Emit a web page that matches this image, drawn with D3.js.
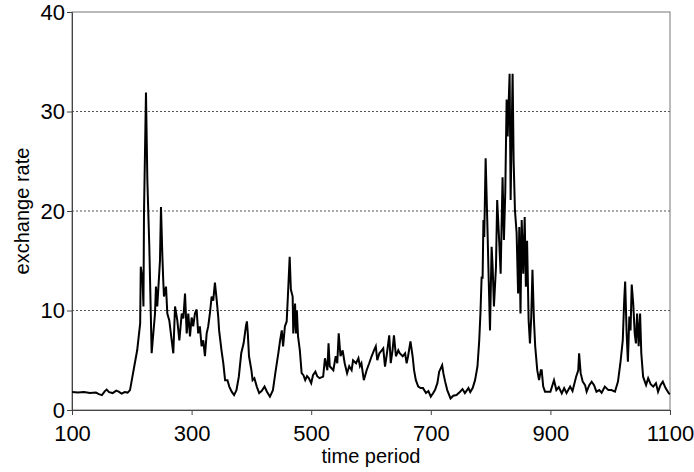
<!DOCTYPE html>
<html lang="en">
<head>
<meta charset="UTF-8">
<title>exchange rate</title>
<script src="https://d3js.org/d3.v7.min.js"></script>
<style>
  body { margin: 0; background: #fff; }
  text { font-family: "Liberation Sans", Arial, sans-serif; fill: #000; }
</style>
</head>
<body>
<div id="chart"></div>
<script>
// time period of each reading
const periods = [
  100, 110, 120, 130, 140, 145, 150, 155, 158, 162, 168, 174, 178, 183, 188, 193, 197,
  204, 209, 214, 215, 218, 219.5, 220.4, 223.7, 226, 229.3, 233.2, 238.8, 240.4, 242.6, 247.1, 248.8,
  251, 252.6, 253.8, 257.2, 259.4, 262.7, 266.7, 269.4, 272.3, 276.1, 279.5, 283.5, 286.2, 289,
  291.8, 294.5, 297.3, 300.1, 302.7, 305.6, 308.4, 311, 313.8, 316.7, 319.5, 322.3, 325.2, 327.8,
  330.6, 333.5, 336.2, 339, 341.9, 344.5, 346, 350, 353, 356, 360, 363, 367, 371, 375, 379, 383,
  387, 391, 392.5, 394, 396, 400, 402, 405, 409, 413, 417, 422, 426, 431, 436, 440, 445, 448, 450.8,
  453, 456, 459, 461, 464, 466, 469, 470, 473, 474.5, 476, 478, 481, 484, 487, 490, 493, 496, 500,
  503, 507, 510, 514, 520, 523, 527, 529, 531, 537, 541, 543.6, 546, 549, 552.6, 556, 560, 563.6,
  567.6, 570, 575, 579, 581.5, 584, 588, 592.7, 597, 601, 605, 608, 610.5, 614, 618, 620.5, 623.4,
  626, 630.5, 633, 636, 638.4, 641.7, 645.6, 648, 653, 657, 659.6, 662, 666, 669.6, 672, 675, 679,
  683, 687, 692, 696, 700, 704, 707, 711, 714, 719, 721, 724, 727.5, 733, 737.5, 743, 749, 753, 757,
  763, 766, 770, 774, 778, 781, 783, 785, 786.6, 788, 789.4, 791.7, 794.4, 796.7, 799, 801.7, 803.4,
  805.6, 809, 811, 814.5, 816.8, 820, 822.3, 824.5, 826.8, 828.5, 830, 831.8, 833.5, 836.8, 838.5,
  840.7, 843.5, 846, 848, 850, 852, 854.6, 857, 859, 861, 863.6, 865.8, 868, 870, 872.5, 874.6, 878,
  881, 884, 885.4, 888, 891, 896, 900, 906, 910, 914, 919, 923, 927, 933, 937, 943, 946.6, 948,
  950.6, 954, 958, 960.6, 965, 969, 973, 977, 981.7, 985.7, 991, 997, 1002, 1008, 1013, 1017, 1021,
  1023.5, 1025, 1027.5, 1029.6, 1032, 1034, 1036, 1038.5, 1041, 1043, 1045, 1047.6, 1050, 1052,
  1055, 1060, 1063.5, 1067.6, 1072, 1076.5, 1080, 1084, 1088, 1092.6, 1098, 1100
];

// exchange rate at those periods
const rates = [
  1.8, 1.75, 1.8, 1.7, 1.75, 1.6, 1.5, 1.9, 2.05, 1.8, 1.7, 1.95, 1.85, 1.65, 1.8, 1.75, 2.0,
  4.35, 6.0, 8.7, 14.4, 13.0, 10.4, 19.8, 31.9, 23.1, 16.4, 5.7, 9.7, 12.4, 10.4, 15.0, 20.4,
  15.7, 13.0, 11.4, 12.4, 9.7, 9.0, 7.0, 5.7, 10.4, 9.0, 7.0, 9.7, 9.2, 11.7,
  7.7, 9.7, 7.4, 9.3, 8.4, 9.7, 10.1, 7.7, 8.4, 6.4, 7.0, 5.4, 7.7, 8.4,
  9.7, 11.4, 11.0, 12.8, 11.1, 9.4, 8.0, 6.0, 4.7, 3.0, 3.0, 2.35, 1.84, 1.5, 2.0, 3.35, 5.7,
  6.7, 8.5, 8.9, 7.7, 5.4, 4.0, 3.0, 3.2, 2.35, 1.7, 1.9, 2.35, 1.84, 1.34, 2.0, 3.7, 5.7, 7.0, 8.0,
  6.4, 8.4, 8.9, 11.4, 15.4, 12.1, 11.4, 7.7, 10.7, 7.7, 10.0, 7.4, 6.0, 3.7, 3.5, 3.0, 3.4, 3.2, 2.7,
  3.5, 3.85, 3.4, 3.2, 3.35, 5.2, 4.0, 6.7, 4.4, 4.0, 5.4, 4.7, 7.7, 5.4, 6.0, 4.7, 3.7, 4.4,
  4.0, 5.0, 4.7, 5.2, 4.4, 4.7, 3.0, 4.0, 4.7, 5.4, 6.0, 6.4, 5.0, 5.7, 6.0, 6.2, 4.35,
  5.4, 7.5, 4.7, 6.0, 7.5, 5.4, 6.0, 5.7, 5.4, 5.7, 4.7, 5.4, 6.9, 5.4, 4.0, 3.0, 2.35,
  2.2, 2.2, 1.7, 1.9, 1.34, 1.7, 2.0, 2.7, 3.85, 4.5, 3.7, 2.85, 2.0, 1.17, 1.44, 1.5, 1.84, 2.1, 1.7,
  2.2, 1.8, 2.2, 3.0, 4.35, 7.0, 9.7, 13.4, 13.2, 19.1, 17.4, 25.3, 19.1, 13.4, 8.0, 16.4, 14.4,
  10.4, 14.4, 21.1, 16.8, 13.7, 23.4, 17.1, 21.8, 31.2, 27.5, 30.5, 33.8, 21.1, 33.8, 25.1,
  20.1, 17.8, 11.7, 18.4, 9.7, 19.1, 13.7, 19.4, 12.4, 17.0, 9.0, 6.7, 9.4, 14.1, 9.0, 6.4, 4.0,
  3.0, 4.0, 4.0, 2.35, 1.84, 1.84, 1.84, 3.0, 2.0, 2.3, 1.67, 2.2, 1.7, 2.35, 1.9, 3.35, 4.0, 5.7,
  3.7, 2.85, 2.5, 1.84, 2.5, 2.85, 2.5, 1.84, 2.0, 1.74, 2.35, 2.0, 2.0, 1.84, 2.85, 4.7, 7.0,
  11.1, 12.9, 7.7, 4.85, 9.4, 8.0, 12.6, 10.7, 7.7, 6.7, 9.7, 6.4, 9.7, 5.7,
  3.35, 2.5, 3.2, 2.6, 2.35, 2.7, 1.84, 2.5, 2.85, 2.2, 1.67, 1.6
];

const xTicks = [100, 300, 500, 700, 900, 1100];
const yTicks = [0, 10, 20, 30, 40];
const gridLines = [10, 20, 30];

const width = 694, height = 472;
const margin = { top: 12, right: 24, bottom: 62, left: 72 };

const svg = d3.select("#chart")
  .append("svg")
  .attr("width", width)
  .attr("height", height);

const x = d3.scaleLinear().domain([100, 1100]).range([margin.left, width - margin.right]);
const y = d3.scaleLinear().domain([0, 40]).range([height - margin.bottom, margin.top]);

// dotted gridlines
svg.append("g")
  .selectAll("line")
  .data(gridLines)
  .join("line")
  .attr("x1", x(100))
  .attr("x2", x(1100))
  .attr("y1", d => y(d))
  .attr("y2", d => y(d))
  .attr("stroke", "#555")
  .attr("stroke-width", 1)
  .attr("stroke-dasharray", "2,2");

// plot frame
svg.append("rect")
  .attr("x", x(100))
  .attr("y", y(40))
  .attr("width", x(1100) - x(100))
  .attr("height", y(0) - y(40))
  .attr("fill", "none")
  .attr("stroke", "#777")
  .attr("stroke-width", 1);

// axes
const xAxis = svg.append("g")
  .attr("transform", `translate(0,${y(0)})`)
  .call(d3.axisBottom(x).tickValues(xTicks).tickSize(5).tickPadding(10).tickFormat(d3.format("d")));

const yAxis = svg.append("g")
  .attr("transform", `translate(${x(100)},0)`)
  .call(d3.axisLeft(y).tickValues(yTicks).tickSize(5).tickPadding(2));

[xAxis, yAxis].forEach(g => {
  g.select(".domain").attr("stroke", "#444");
  g.selectAll(".tick line").attr("stroke", "#444");
  g.selectAll(".tick text")
    .style("font-size", "22px")
    .style("font-family", "'Liberation Sans', Arial, sans-serif")
    .attr("fill", "#000");
});

// the series
const line = d3.line()
  .x((d, i) => x(periods[i]))
  .y(d => y(d));

svg.append("path")
  .datum(rates)
  .attr("d", line)
  .attr("fill", "none")
  .attr("stroke", "#000")
  .attr("stroke-width", 2)
  .attr("stroke-linejoin", "miter");

// axis titles
svg.append("text")
  .attr("x", (x(100) + x(1100)) / 2)
  .attr("y", 463)
  .attr("text-anchor", "middle")
  .style("font-size", "20px")
  .text("time period");

svg.append("text")
  .attr("transform", `translate(29,${(y(0) + y(40)) / 2}) rotate(-90)`)
  .attr("text-anchor", "middle")
  .style("font-size", "20px")
  .text("exchange rate");
</script>
</body>
</html>
